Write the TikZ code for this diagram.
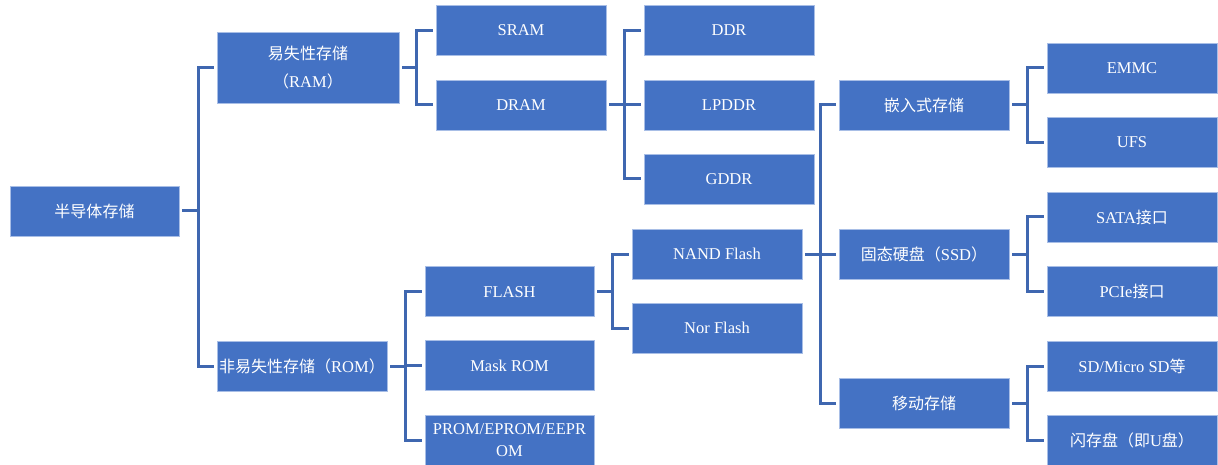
\documentclass[tikz,border=0pt]{standalone}
\usepackage{fontspec}
\setmainfont{Liberation Serif}
\newfontfamily\cjk{Noto Sans CJK SC}[Scale=0.97]
\definecolor{boxblue}{HTML}{4472C4}
\definecolor{linkblue}{HTML}{3F67B0}
\definecolor{edgeblue}{HTML}{A8BEE6}
\begin{document}
\begin{tikzpicture}[x=1pt,y=-1pt,
  box/.style={draw=edgeblue,line width=0.6pt,fill=boxblue,text=white,inner sep=0pt,
    font=\fontsize{16.5}{22}\selectfont,align=center,minimum width=170pt,minimum height=50pt},
  conn/.style={draw=linkblue,line width=3pt},
  stub/.style={conn,shorten >=3pt},
  from/.style={conn,shorten <=3pt}]
\useasboundingbox (0,0) rectangle (1218,465);
% nodes
\node[box,minimum width=169pt] (root) at (94.5,211) {\cjk 半导体存储};
\node[box,minimum width=182pt,minimum height=71pt] (ram) at (308,68) {{\cjk 易失性存储}\\[6pt]{\cjk （}RAM{\cjk ）}};
\node[box] (rom) at (302,366) {{\cjk 非易失性存储（}ROM{\cjk ）}};
\node[box] (sram) at (521,30.5) {SRAM};
\node[box] (dram) at (521,105) {DRAM};
\node[box] (ddr) at (729,30.5) {DDR};
\node[box] (lpddr) at (729,105) {LPDDR};
\node[box] (gddr) at (729,179) {GDDR};
\node[box,minimum width=169pt] (flash) at (509.5,291.7) {FLASH};
\node[box,minimum width=169pt] (mask) at (509.5,365.7) {Mask ROM};
\node[box,minimum width=169pt] (prom) at (509.5,440) {PROM/EPROM/EEPR\\OM};
\node[box] (nand) at (717,254) {NAND Flash};
\node[box] (nor) at (717,328) {Nor Flash};
\node[box] (emb) at (924,105) {\cjk 嵌入式存储};
\node[box] (ssd) at (924,254) {{\cjk 固态硬盘（}SSD{\cjk ）}};
\node[box] (mob) at (924,403) {\cjk 移动存储};
\node[box] (emmc) at (1132,68) {EMMC};
\node[box] (ufs) at (1132,142.5) {UFS};
\node[box] (sata) at (1132,217) {SATA{\cjk 接口}};
\node[box] (pcie) at (1132,291.5) {PCIe{\cjk 接口}};
\node[box] (sd) at (1132,366) {SD/Micro SD{\cjk 等}};
\node[box] (udisk) at (1132,440.5) {{\cjk 闪存盘（即}U{\cjk 盘）}};
% bus coordinates
\coordinate (b1) at (198,0);
\coordinate (b2) at (416.7,0);
\coordinate (b3) at (624,0);
\coordinate (b4) at (405.7,0);
\coordinate (b5) at (612.6,0);
\coordinate (b6) at (820.7,0);
\coordinate (b7) at (1027.7,0);
% connectors
\draw[from] (root.east) -- (root.east -| b1);
\draw[stub] (root.east -| b1) |- (ram.west);
\draw[stub] (root.east -| b1) |- (rom.west);
\draw[from] (ram.east) -- (ram.east -| b2);
\draw[stub] (ram.east -| b2) |- (sram.west);
\draw[stub] (ram.east -| b2) |- (dram.west);
\draw[from] (dram.east) -- (dram.east -| b3);
\draw[stub] (dram.east -| b3) |- (ddr.west);
\draw[stub] (dram.east -| b3) |- (lpddr.west);
\draw[stub] (dram.east -| b3) |- (gddr.west);
\draw[from] (rom.east) -- (rom.east -| b4);
\draw[stub] (rom.east -| b4) |- (flash.west);
\draw[stub] (rom.east -| b4) |- (mask.west);
\draw[stub] (rom.east -| b4) |- (prom.west);
\draw[from] (flash.east) -- (flash.east -| b5);
\draw[stub] (flash.east -| b5) |- (nand.west);
\draw[stub] (flash.east -| b5) |- (nor.west);
\draw[from] (nand.east) -- (nand.east -| b6);
\draw[stub] (nand.east -| b6) |- (emb.west);
\draw[stub] (nand.east -| b6) |- (ssd.west);
\draw[stub] (nand.east -| b6) |- (mob.west);
\draw[from] (emb.east) -- (emb.east -| b7);
\draw[stub] (emb.east -| b7) |- (emmc.west);
\draw[stub] (emb.east -| b7) |- (ufs.west);
\draw[from] (ssd.east) -- (ssd.east -| b7);
\draw[stub] (ssd.east -| b7) |- (sata.west);
\draw[stub] (ssd.east -| b7) |- (pcie.west);
\draw[from] (mob.east) -- (mob.east -| b7);
\draw[stub] (mob.east -| b7) |- (sd.west);
\draw[stub] (mob.east -| b7) |- (udisk.west);
\end{tikzpicture}
\end{document}
